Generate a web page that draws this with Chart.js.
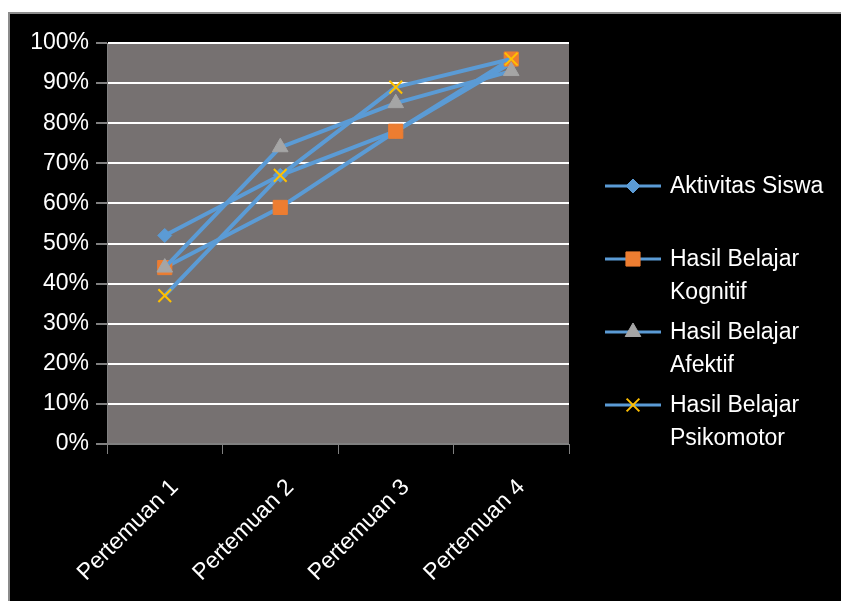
<!DOCTYPE html>
<html>
<head>
<meta charset="utf-8">
<script src="https://cdn.jsdelivr.net/npm/chart.js@4.4.1/dist/chart.umd.min.js"></script>
<style>
    body { margin: 0; background: #ffffff; }
    #box {
        position: absolute; left: 8px; top: 12px; width: 840px; height: 600px;
        background: #000000; border-left: 2px solid #8c8c8c; border-top: 2px solid #8c8c8c;
    }
    #myChart { position: absolute; left: 0; top: 0; }
</style>
</head>
<body>
<div id="box"><canvas id="myChart" width="831" height="587"></canvas></div>
<script>
// Data
let categories = ['Pertemuan 1', 'Pertemuan 2', 'Pertemuan 3', 'Pertemuan 4'];
let seriesNames = ['Aktivitas Siswa', 'Hasil Belajar Kognitif', 'Hasil Belajar Afektif', 'Hasil Belajar Psikomotor'];
let aktivitas = [52, 67, 78, 95];
let kognitif = [44, 59, 78, 96];
let afektif = [44, 74, 85, 93];
let psikomotor = [37, 67, 89, 96];
let yTicks = [0, 10, 20, 30, 40, 50, 60, 70, 80, 90, 100];

// legend text split on two lines like the original
let legendLines = [
    ['Aktivitas Siswa'],
    ['Hasil Belajar', 'Kognitif'],
    ['Hasil Belajar', 'Afektif'],
    ['Hasil Belajar', 'Psikomotor']
];

let lineColor = '#5B9BD5';
let font = 'Liberation Sans, Arial, sans-serif';

function makeSet(i, values, style, color, radius, order) {
    return {
        label: seriesNames[i],
        data: values,
        borderColor: lineColor,
        borderWidth: 4,
        borderJoinStyle: 'round',
        tension: 0,
        pointStyle: style,
        pointRadius: radius,
        pointHoverRadius: radius,
        pointBackgroundColor: color,
        pointBorderColor: color,
        pointBorderWidth: style === 'crossRot' ? 2 : 1,
        order: order
    };
}

// gray plot area
const plotBg = {
    id: 'plotBg',
    beforeDraw(chart) {
        const a = chart.chartArea;
        const ctx = chart.ctx;
        ctx.save();
        ctx.fillStyle = '#767171';
        ctx.fillRect(a.left, a.top, a.right - a.left, a.bottom - a.top);
        ctx.restore();
    }
};

// legend on the right, with wrapped labels
const sideLegend = {
    id: 'sideLegend',
    afterDraw(chart) {
        const ctx = chart.ctx;
        const rows = [172, 245, 318, 391];
        const sizes = [7, 10, 9, 9];
        ctx.save();
        chart.data.datasets.forEach(function (ds, i) {
            let y = rows[i];
            ctx.strokeStyle = lineColor;
            ctx.lineWidth = 3;
            ctx.beginPath();
            ctx.moveTo(595, y);
            ctx.lineTo(651, y);
            ctx.stroke();
            ctx.fillStyle = ds.pointBackgroundColor;
            ctx.strokeStyle = ds.pointBorderColor;
            ctx.lineWidth = ds.pointBorderWidth;
            Chart.helpers.drawPoint(ctx, { pointStyle: ds.pointStyle, radius: sizes[i], rotation: 0, borderWidth: ds.pointBorderWidth }, 623, y);
            ctx.fillStyle = '#ffffff';
            ctx.font = '23px ' + font;
            ctx.textBaseline = 'middle';
            ctx.textAlign = 'left';
            legendLines[i].forEach(function (t, k) {
                ctx.fillText(t, 660, y + 1 + k * 33);
            });
        });
        ctx.restore();
    }
};

function createChart() {
    var ctx = document.getElementById('myChart').getContext('2d');
    var myChart = new Chart(ctx, {
        type: 'line',
        data: {
            labels: categories,
            datasets: [
                makeSet(0, aktivitas, 'rectRot', lineColor, 7, 4),
                makeSet(1, kognitif, 'rect', '#ED7D31', 10, 3),
                makeSet(2, afektif, 'triangle', '#A5A5A5', 9, 2),
                makeSet(3, psikomotor, 'crossRot', '#FFC000', 9, 1)
            ]
        },
        options: {
            responsive: false,
            animation: false,
            devicePixelRatio: 1,
            layout: { padding: { top: 29, right: 272, left: 0, bottom: 0 } },
            plugins: {
                legend: { display: false },
                tooltip: { enabled: false }
            },
            scales: {
                x: {
                    offset: true,
                    afterFit: function (s) { s.height = 157; },
                    grid: {
                        offset: true,
                        drawOnChartArea: false,
                        tickLength: 10,
                        color: '#808080',
                        lineWidth: 1
                    },
                    border: { color: '#808080', width: 1 },
                    ticks: {
                        color: '#ffffff',
                        font: { family: font, size: 23 },
                        minRotation: 45,
                        maxRotation: 45,
                        padding: 20,
                        labelOffset: 10
                    }
                },
                y: {
                    min: 0,
                    max: 100,
                    afterFit: function (s) { s.width = 97; },
                    afterBuildTicks: function (s) { s.ticks = yTicks.map(v => ({ value: v })); },
                    grid: {
                        color: function (c) { return c.tick && c.tick.value === 0 ? '#808080' : '#ffffff'; },
                        lineWidth: 2,
                        tickColor: '#808080',
                        tickLength: 11
                    },
                    border: { color: '#808080', width: 1 },
                    ticks: {
                        color: '#ffffff',
                        font: { family: font, size: 23 },
                        padding: 7,
                        callback: function (v) { return v + '%'; }
                    }
                }
            }
        },
        plugins: [plotBg, sideLegend]
    });
}

createChart();
</script>
</body>
</html>
